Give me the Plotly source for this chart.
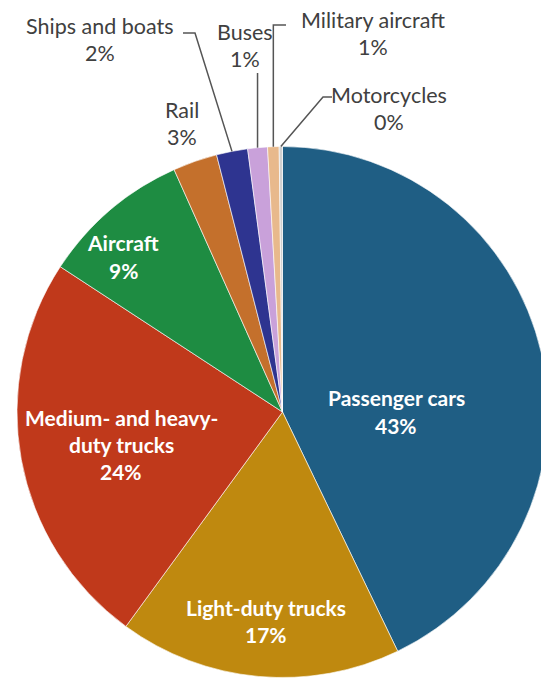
import math
import plotly.graph_objects as go

# ---- data ----
categories = ["Passenger cars", "Light-duty trucks", "Medium- and heavy-duty trucks",
              "Aircraft", "Rail", "Ships and boats", "Buses", "Military aircraft", "Motorcycles"]
display_lines = [["Passenger cars"], ["Light-duty trucks"], ["Medium- and heavy-", "duty trucks"],
                 ["Aircraft"], ["Rail"], ["Ships and boats"], ["Buses"], ["Military aircraft"], ["Motorcycles"]]
values = [42.9, 17.2, 24.2, 9.1, 2.7, 1.9, 1.2, 0.7, 0.2]
colors = ["#1F5E84", "#BF890F", "#C0391B", "#1E8C42", "#C4702C", "#2E3490",
          "#C9A1DA", "#E8B98C", "#D0D0D0"]

OFF = 8  # page body margin
W, H = 549 - OFF, 683 - OFF
# pie placement (window pixels)
X0, X1, Y0, Y1 = 17, 548, 144, 680

def px(x):
    return (x - OFF) / W

def py(y):
    return 1 - (y - OFF) / H

fig = go.Figure(go.Pie(
    labels=categories, values=values, sort=False, direction="clockwise", rotation=0,
    marker=dict(colors=colors, line=dict(color="rgba(255,255,255,0.6)", width=1)),
    textinfo="none", hoverinfo="label+percent", showlegend=False,
    domain=dict(x=[px(X0), min(1, px(X1))], y=[max(0, py(Y1)), py(Y0)]),
))

total = sum(values)
pct = [f"{round(100 * v / total)}%" for v in values]

# label placement: (x center, y of first line, inside?)
label_pos = [
    (396, 398, True),
    (266, 607, True),
    (121, 417, True),
    (123, 243, True),
    (182, 110, False),
    (100, 26, False),
    (245, 32, False),
    (373, 20, False),
    (389, 95, False),
]
STEP = 27
annotations = []
for lines, p, (lx, ly, inside) in zip(display_lines, pct, label_pos):
    for i, t in enumerate(lines + [p]):
        annotations.append(dict(
            x=px(lx), y=py(ly + i * STEP), xref="paper", yref="paper",
            text=f"<b>{t}</b>" if inside else t, showarrow=False,
            xanchor="center", yanchor="middle",
            font=dict(family="Lato, Open Sans, sans-serif", size=21 if inside else 21.5,
                      color="white" if inside else "#404040"),
        ))

# leader lines: end points at slice mid-angles computed from the data
cx = (X0 + X1) / 2
cy = (Y0 + Y1) / 2
r = min(X1 - X0, Y1 - Y0) / 2

def edge_point(idx):
    cum = sum(values[:idx]) + values[idx] / 2
    th = 2 * math.pi * cum / total
    return cx + r * math.sin(th), cy - r * math.cos(th)

def path(points):
    return "M " + " L ".join(f"{px(x):.5f},{py(y):.5f}" for x, y in points)

shapes = []
ex, ey = edge_point(5)
shapes.append(path([(183, 33), (195, 33), (ex, ey)]))
ex, ey = edge_point(6)
shapes.append(path([(ex, 73), (ex, ey)]))
ex, ey = edge_point(7)
shapes.append(path([(286, 25), (ex, 25), (ex, ey)]))
ex, ey = edge_point(8)
shapes.append(path([(332, 97), (323, 97), (ex, ey)]))

fig.update_layout(
    width=W, height=H, margin=dict(l=0, r=0, t=0, b=0),
    paper_bgcolor="white", plot_bgcolor="white",
    annotations=annotations,
    shapes=[dict(type="path", path=p, xref="paper", yref="paper",
                 line=dict(color="#555555", width=1.5)) for p in shapes],
)
fig.write_html("out.html")
